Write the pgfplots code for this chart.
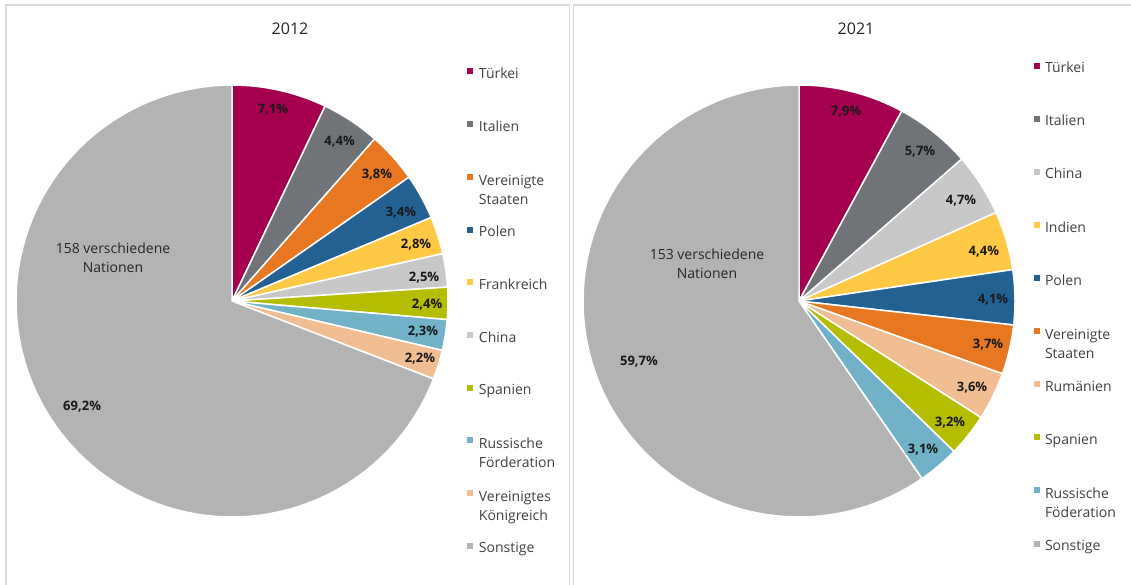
\documentclass[border=0pt]{standalone}
\usepackage{fontspec}
\setmainfont{Open Sans}
\usepackage{pgfplots}
\pgfplotsset{compat=1.18}

\definecolor{cTR}{HTML}{A5004F}
\definecolor{cIT}{HTML}{707478}
\definecolor{cUS}{HTML}{E87722}
\definecolor{cPL}{HTML}{236192}
\definecolor{cFR}{HTML}{FFC845}
\definecolor{cCN}{HTML}{C8C8C8}
\definecolor{cES}{HTML}{B5BD00}
\definecolor{cRU}{HTML}{71B2C9}
\definecolor{cUK}{HTML}{F1BE94}
\definecolor{cSO}{HTML}{B3B3B3}
\definecolor{frame}{HTML}{D9D9D9}
\definecolor{txt}{HTML}{262626}
\definecolor{legtxt}{HTML}{404040}

% one pie slice: #1 = share in percent, #2 = colour
\newcommand{\slice}[2]{%
  \pgfmathsetmacro{\sA}{90-\cum*(360/\tot)}%
  \pgfmathsetmacro{\newcum}{\cum+#1}%
  \pgfmathsetmacro{\sB}{90-\newcum*(360/\tot)}%
  \xdef\cum{\newcum}%
  \edef\doslice{\noexpand\addplot[fill=#2, draw=white, line width=1.5pt, domain=\sB:\sA, samples=90, variable=\noexpand\t] ({cos(\noexpand\t)},{sin(\noexpand\t)}) -- (axis cs:0,0) -- cycle;}%
  \doslice
}
\newcommand{\lab}[3]{\node[font=\bfseries\fontsize{13}{15}\selectfont, text=black!90] at (axis cs:#1,#2) {#3};}
% legend entry with fixed row height
\def\lh{10.35pt }\def\ld{42.35pt }
\newcommand{\lgd}[1]{\vrule height\lh depth\ld width0pt\relax #1}
\newcommand{\two}[2]{\vrule height\lh depth\ld width0pt\relax\begin{tabular}[t]{@{}l@{}}#1\\#2\end{tabular}}

\pgfplotsset{
  pieaxis/.style={
    scale only axis, width=432pt, height=432pt,
    xmin=-1, xmax=1, ymin=-1, ymax=1,
    hide axis, clip=false, anchor=south west,
    legend cell align=left,
    legend style={draw=none, fill=none, inner sep=0pt, outer sep=0pt,
      row sep=0pt, column sep=0pt,
      font=\fontsize{14}{19}\selectfont, text=legtxt, anchor=north west,
      nodes={inner sep=0pt, outer sep=0pt}},
  },
}

\begin{document}
\begin{tikzpicture}
\path[use as bounding box] (0,0) rectangle (1131pt,584pt);
\draw[frame, line width=1.5pt] (6pt,-2pt) -- (6pt,579pt) -- (569.5pt,579pt) -- (569.5pt,-2pt);
\draw[frame, line width=1.5pt] (573.5pt,-2pt) -- (573.5pt,579pt) -- (1134pt,579pt);
\node[font=\fontsize{16}{19}\selectfont, text=txt] at (290pt,555pt) {2012};
\node[font=\fontsize{16}{19}\selectfont, text=txt] at (856pt,555pt) {2021};

% ---------------- 2012 ----------------
\xdef\cum{0}\def\tot{100.1}
\begin{axis}[pieaxis, at={(16pt,67pt)},
  legend style={at={(axis cs:1.090,1.173)}},
  legend image code/.code={%
      \fill[#1,draw=none] (0pt,-0.5pt) rectangle (6pt,5.5pt);
      \path[fill=none,draw=none] (0pt,-26.35pt) rectangle (11.5pt,26.35pt);}]
\slice{7.1}{cTR}\addlegendentry{\lgd{Türkei}}
\slice{4.4}{cIT}\addlegendentry{\lgd{Italien}}
\slice{3.8}{cUS}\addlegendentry{\two{Vereinigte}{Staaten}}
\slice{3.4}{cPL}\addlegendentry{\lgd{Polen}}
\slice{2.8}{cFR}\addlegendentry{\lgd{Frankreich}}
\slice{2.5}{cCN}\addlegendentry{\lgd{China}}
\slice{2.4}{cES}\addlegendentry{\lgd{Spanien}}
\slice{2.3}{cRU}\addlegendentry{\two{Russische}{Förderation}}
\slice{2.2}{cUK}\addlegendentry{\two{Vereinigtes}{Königreich}}
\slice{69.2}{cSO}\addlegendentry{\lgd{Sonstige}}
\lab{0.190}{0.884}{7,1\%}
\lab{0.498}{0.736}{4,4\%}
\lab{0.671}{0.583}{3,8\%}
\lab{0.782}{0.407}{3,4\%}
\lab{0.852}{0.259}{2,8\%}
\lab{0.889}{0.106}{2,5\%}
\lab{0.903}{-0.019}{2,4\%}
\lab{0.884}{-0.144}{2,3\%}
\lab{0.870}{-0.269}{2,2\%}
\lab{-0.694}{-0.491}{69,2\%}
\node[font=\fontsize{14}{19}\selectfont, text=txt, align=center] at (axis cs:-0.551,0.199) {158 verschiedene\\Nationen};
\end{axis}

% ---------------- 2021 ----------------
\xdef\cum{0}\def\tot{100.1}
\def\lh{10.55pt }\def\ld{42.55pt }
\begin{axis}[pieaxis, at={(583pt,67pt)},
  legend style={at={(axis cs:1.0856,1.201)}},
  legend image code/.code={%
      \fill[#1,draw=none] (0pt,-0.5pt) rectangle (6pt,5.5pt);
      \path[fill=none,draw=none] (0pt,-26.55pt) rectangle (11.5pt,26.55pt);}]
\slice{7.9}{cTR}\addlegendentry{\lgd{Türkei}}
\slice{5.7}{cIT}\addlegendentry{\lgd{Italien}}
\slice{4.7}{cCN}\addlegendentry{\lgd{China}}
\slice{4.4}{cFR}\addlegendentry{\lgd{Indien}}
\slice{4.1}{cPL}\addlegendentry{\lgd{Polen}}
\slice{3.7}{cUS}\addlegendentry{\two{Vereinigte}{Staaten}}
\slice{3.6}{cUK}\addlegendentry{\lgd{Rumänien}}
\slice{3.2}{cES}\addlegendentry{\lgd{Spanien}}
\slice{3.1}{cRU}\addlegendentry{\two{Russische}{Föderation}}
\slice{59.7}{cSO}\addlegendentry{\lgd{Sonstige}}
\lab{0.218}{0.875}{7,9\%}
\lab{0.560}{0.690}{5,7\%}
\lab{0.750}{0.463}{4,7\%}
\lab{0.856}{0.227}{4,4\%}
\lab{0.898}{0.005}{4,1\%}
\lab{0.875}{-0.204}{3,7\%}
\lab{0.801}{-0.403}{3,6\%}
\lab{0.699}{-0.565}{3,2\%}
\lab{0.574}{-0.690}{3,1\%}
\lab{-0.741}{-0.282}{59,7\%}
\node[font=\fontsize{14}{19}\selectfont, text=txt, align=center] at (axis cs:-0.426,0.171) {153 verschiedene\\Nationen};
\end{axis}
\end{tikzpicture}
\end{document}
